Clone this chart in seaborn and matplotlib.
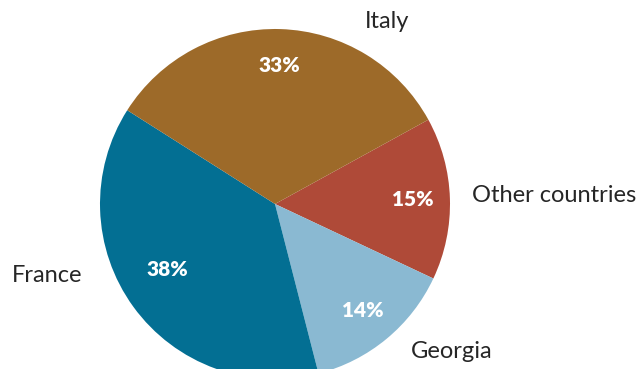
import matplotlib
matplotlib.use("Agg")
import matplotlib.pyplot as plt
import seaborn as sns

# Share of production by country
countries = ["Other countries", "Georgia", "France", "Italy"]
shares = [15, 14, 38, 33]
colors = ["#AF4A38", "#8AB9D2", "#036F93", "#9D6A29"]

sns.set_theme(style="white")
plt.rcParams["font.family"] = ["Lato", "DejaVu Sans"]

W, H = 641, 369
fig = plt.figure(figsize=(W / 100, H / 100), dpi=100)
ax = fig.add_axes([0, 0, 1, 1])

# pixel-scaled data space, pie centred at the origin
cx, cy = 275, 204
ax.set_xlim(-cx, W - cx)
ax.set_ylim(-(H - cy), cy)
ax.set_aspect("equal")
ax.axis("off")

wedges, _, autotexts = ax.pie(
    shares,
    colors=colors,
    radius=175,
    startangle=28.8,
    counterclock=False,
    autopct=lambda p: f"{p:.0f}%",
    pctdistance=0.79,
    wedgeprops=dict(linewidth=0),
    textprops=dict(color="white", fontsize=15, fontweight="heavy"),
)
ax.set_xlim(-cx, W - cx)
ax.set_ylim(-(H - cy), cy)

# France's percentage sits a little closer to the centre
autotexts[2].set_position((-108, -66))

label_pos = {
    "Italy": (112, 182),
    "Other countries": (279, 9),
    "France": (-228, -71),
    "Georgia": (177, -148),
}
for name in countries:
    x, y = label_pos[name]
    ax.text(x, y, name, ha="center", va="center", fontsize=17, color="#262626")

fig.savefig("out.png", dpi=100)
